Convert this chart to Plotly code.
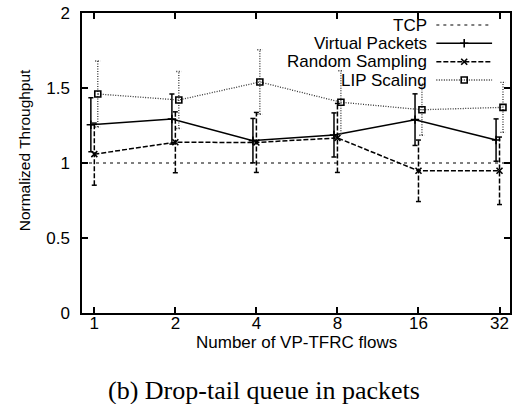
import plotly.graph_objects as go

# Number of VP-TFRC flows
flows = [1, 2, 4, 8, 16, 32]
tick_labels = ["1", "2", "4", "8", "16", "32"]

# TCP reference throughput
tcp_level = 1.0

# Normalized throughput (mean) and error half-width per scheme
vp_mean = [1.255, 1.293, 1.149, 1.187, 1.289, 1.153]
vp_err = [0.18, 0.167, 0.148, 0.147, 0.172, 0.141]

rs_mean = [1.059, 1.138, 1.137, 1.167, 0.948, 0.948]
rs_err = [0.207, 0.203, 0.20, 0.23, 0.205, 0.225]

lip_mean = [1.46, 1.42, 1.54, 1.405, 1.355, 1.371]
lip_err = [0.22, 0.19, 0.215, 0.21, 0.17, 0.167]

series_names = ["TCP", "Virtual Packets", "Random Sampling", "LIP Scaling"]

FONT = "Liberation Sans, Arial, sans-serif"
SERIF = "Liberation Serif, Times New Roman, serif"

# plot frame in pixels
W, H = 515, 404
L, R, T, B = 82, 512, 13, 313

# style per scheme: (x shift factor, dash, colour, width, symbol, size)
styles = {
    "Virtual Packets": (1 / 1.03, "solid", "#000000", 1.5, "cross-thin", 6),
    "Random Sampling": (1.0, "5px,2px", "#000000", 1.5, "x-thin", 6),
    "LIP Scaling": (1.03, "1px,1.5px", "#333333", 1.3, "square-open", 6),
}
tcp_style = ("3px,4px", "#000000", 1.2)

fig = go.Figure()

# TCP constant line across the whole axis
fig.add_trace(go.Scatter(
    x=[0.9, 35], y=[tcp_level, tcp_level], mode="lines",
    line=dict(color=tcp_style[1], width=tcp_style[2], dash=tcp_style[0]),
    showlegend=False, hoverinfo="skip"))

CAP = 1.022  # half-width of the error bar caps, as a factor on the log axis


def error_segments(xs, ys, es):
    ex, ey = [], []
    for x, y, e in zip(xs, ys, es):
        ex += [x, x, None, x / CAP, x * CAP, None, x / CAP, x * CAP, None]
        ey += [y - e, y + e, None, y - e, y - e, None, y + e, y + e, None]
    return ex, ey


data = {
    "Virtual Packets": (vp_mean, vp_err),
    "Random Sampling": (rs_mean, rs_err),
    "LIP Scaling": (lip_mean, lip_err),
}

for name, (mean, err) in data.items():
    shift, dash, color, width, symbol, size = styles[name]
    xs = [f * shift for f in flows]
    ex, ey = error_segments(xs, mean, err)
    fig.add_trace(go.Scatter(
        x=ex, y=ey, mode="lines",
        line=dict(color=color, width=width, dash=dash),
        showlegend=False, hoverinfo="skip", connectgaps=False))
    fig.add_trace(go.Scatter(
        x=xs, y=mean, mode="lines+markers", name=name,
        line=dict(color=color, width=width, dash=dash),
        marker=dict(symbol=symbol, size=size, color="#000000",
                    line=dict(color="#000000", width=1.6)),
        showlegend=False))

# key in the upper right: text right-aligned, line sample to its right
key_rows = [25, 43.3, 61.7, 80]
key_text_right = 431
key_line = (438, 494)
key_mark = 466


def px(xp):
    return (xp - L) / (R - L)


def py(yp):
    return (B - yp) / (B - T)


for name, yrow in zip(series_names, key_rows):
    fig.add_annotation(
        x=px(key_text_right), y=py(yrow), xref="paper", yref="paper",
        text=name, showarrow=False, xanchor="right", yanchor="middle",
        font=dict(family=FONT, size=17, color="#000000"))
    if name == "TCP":
        dash, color, width = tcp_style
        symbol, size = None, 0
    else:
        _, dash, color, width, symbol, size = styles[name]
    fig.add_trace(go.Scatter(
        x=[px(key_line[0]), px(key_line[1])], y=[py(yrow), py(yrow)],
        xaxis="x2", yaxis="y2", mode="lines",
        line=dict(color=color, width=width, dash=dash),
        showlegend=False, hoverinfo="skip"))
    if symbol:
        fig.add_trace(go.Scatter(
            x=[px(key_mark)], y=[py(yrow)], xaxis="x2", yaxis="y2",
            mode="markers",
            marker=dict(symbol=symbol, size=size, color="#000000",
                        line=dict(color="#000000", width=1.6)),
            showlegend=False, hoverinfo="skip"))

axis_common = dict(
    showline=True, linecolor="#000000", linewidth=1.5, mirror="ticks",
    ticks="inside", ticklen=6, tickwidth=1.5, tickcolor="#000000",
    showgrid=False, zeroline=False,
    tickfont=dict(family=FONT, size=17, color="#000000"),
)

fig.update_layout(
    width=W, height=H,
    margin=dict(l=L, r=W - R, t=T, b=H - B),
    plot_bgcolor="#ffffff", paper_bgcolor="#ffffff",
    showlegend=False,
    xaxis=dict(type="log", range=[-0.04576, 1.54407],
               tickvals=flows, ticktext=tick_labels,
               ticklabelstandoff=-6, **axis_common),
    yaxis=dict(range=[0, 2], tickvals=[0, 0.5, 1, 1.5, 2],
               ticktext=["0", "0.5", "1", "1.5", "2"],
               ticklabelstandoff=7, **axis_common),
    xaxis2=dict(overlaying="x", range=[0, 1], visible=False),
    yaxis2=dict(overlaying="y", range=[0, 1], visible=False),
)

# axis titles and caption
fig.add_annotation(
    x=px(297), y=py(342), xref="paper", yref="paper",
    xanchor="center", yanchor="middle",
    text="Number of VP-TFRC flows", showarrow=False,
    font=dict(family=FONT, size=17, color="#000000"))
fig.add_annotation(
    x=px(24), y=py(150), xref="paper", yref="paper",
    xanchor="center", yanchor="middle",
    text="Normalized Throughput", showarrow=False, textangle=-90,
    font=dict(family=FONT, size=15.5, color="#000000"))
fig.add_annotation(
    x=px(265), y=py(390), xref="paper", yref="paper",
    xanchor="center", yanchor="middle",
    text="(b) Drop-tail queue in packets", showarrow=False,
    font=dict(family=SERIF, size=26, color="#000000"))

fig.write_html("out.html")
